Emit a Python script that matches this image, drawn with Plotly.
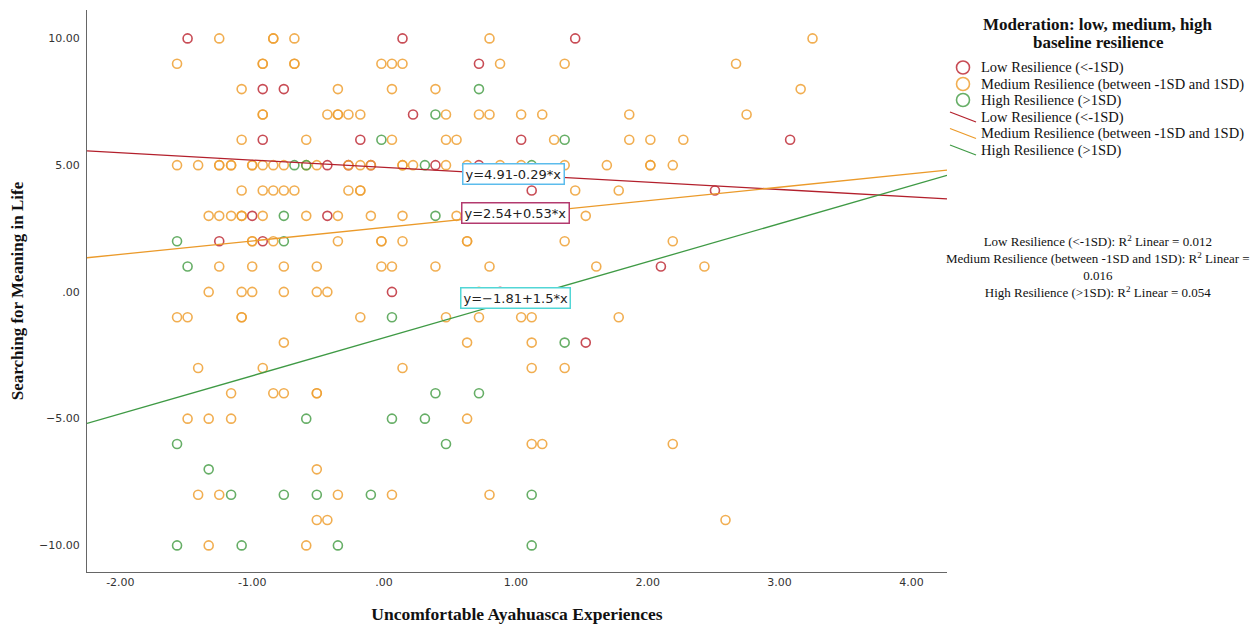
import plotly.graph_objects as go

# ---------------- data ----------------
low_x = [-1.49, 0.14, 1.45,
         0.72,
         -0.92, -0.76,
         0.22,
         -0.92, -0.18, 1.04, 3.08,
         -0.43, -0.27, -0.10, 0.39, 0.72,
         1.12, 2.51,
         -1.00, -0.43,
         -1.25, -0.92,
         2.10,
         0.06, 0.88,
         1.53]
low_y = [10, 10, 10,
         9,
         8, 8,
         7,
         6, 6, 6, 6,
         5, 5, 5, 5, 5,
         4, 4,
         3, 3,
         2, 2,
         1,
         0, 0,
         -2]

med_x = [-1.25, -0.84, -0.84, -0.68, 0.80, 3.25,
         -1.57, -0.92, -0.92, -0.68, -0.68, -0.02, 0.06, 0.14, 0.88, 1.37, 2.67,
         -1.08, -0.35, 0.06, 0.39, 3.16,
         -0.92, -0.92, -0.43, -0.35, -0.35, -0.27, -0.18, 0.47, 0.72, 0.80, 1.04, 1.20, 1.86, 2.75,
         -1.08, -0.59, 0.06, 0.47, 0.55, 1.29, 1.86, 2.02, 2.27,
         -1.57, -1.41, -1.25, -1.25, -1.16, -1.16, -1.00, -1.00, -0.92, -0.84, -0.76, -0.59, -0.51, -0.27,
         -0.18, -0.10, 0.14, 0.14, 0.22, 0.47, 0.63, 0.88, 1.04, 1.37, 1.69, 2.02, 2.02, 2.19,
         -1.08, -0.92, -0.84, -0.76, -0.68, -0.27, -0.18, -0.18, 1.45, 1.78,
         -1.33, -1.25, -1.16, -1.08, -1.08, -0.92, -0.59, -0.35, -0.10, 0.14, 0.55, 1.53,
         -1.00, -1.00, -0.84, -0.35, -0.02, -0.02, 0.14, 0.63, 0.63, 1.37, 2.19,
         -1.25, -1.00, -0.76, -0.51, -0.02, 0.06, 0.39, 0.80, 1.61, 2.43,
         -1.33, -1.08, -1.00, -0.76, -0.51, -0.43, 0.72,
         -1.57, -1.49, -1.08, -1.08, -0.18, 0.47, 0.72, 1.04, 1.12, 1.78,
         -0.76, 0.63, 1.12,
         -1.41, -0.92, 0.14, 1.12, 1.37,
         -1.16, -0.84, -0.76, -0.51, -0.51,
         -1.49, -1.33, -1.16, 0.63,
         1.12, 1.20, 2.19,
         -0.51,
         -1.41, -1.25, -0.35, 0.06, 0.80,
         -0.51, -0.43, 2.59,
         -1.33, -0.59]
med_y = [10, 10, 10, 10, 10, 10,
         9, 9, 9, 9, 9, 9, 9, 9, 9, 9, 9,
         8, 8, 8, 8, 8,
         7, 7, 7, 7, 7, 7, 7, 7, 7, 7, 7, 7, 7, 7,
         6, 6, 6, 6, 6, 6, 6, 6, 6,
         5, 5, 5, 5, 5, 5, 5, 5, 5, 5, 5, 5, 5, 5,
         5, 5, 5, 5, 5, 5, 5, 5, 5, 5, 5, 5, 5, 5,
         4, 4, 4, 4, 4, 4, 4, 4, 4, 4,
         3, 3, 3, 3, 3, 3, 3, 3, 3, 3, 3, 3,
         2, 2, 2, 2, 2, 2, 2, 2, 2, 2, 2,
         1, 1, 1, 1, 1, 1, 1, 1, 1, 1,
         0, 0, 0, 0, 0, 0, 0,
         -1, -1, -1, -1, -1, -1, -1, -1, -1, -1,
         -2, -2, -2,
         -3, -3, -3, -3, -3,
         -4, -4, -4, -4, -4,
         -5, -5, -5, -5,
         -6, -6, -6,
         -7,
         -8, -8, -8, -8, -8,
         -9, -9, -9,
         -10, -10]

high_x = [0.72, 0.39, -0.02, 1.37, -0.68, -0.59, 0.31, 1.12, -0.76, 0.39,
          -1.57, -0.76, -1.49, 0.06, 1.37, 0.39, 0.72, -0.59, 0.06, 0.31,
          -1.57, 0.47, -1.33, -1.16, -0.76, -0.51, -0.10, 1.12,
          -1.57, -1.08, -0.35, 1.12]
high_y = [8, 7, 6, 6, 5, 5, 5, 5, 3, 3,
          2, 2, 1, -1, -2, -4, -4, -5, -5, -5,
          -6, -6, -7, -8, -8, -8, -8, -8,
          -10, -10, -10, -10]

group_names = ["Low Resilience (<-1SD)",
               "Medium Resilience (between -1SD and 1SD)",
               "High Resilience (>1SD)"]
intercepts = [4.91, 2.54, -1.81]
slopes = [-0.29, 0.53, 1.5]
equation_labels = ["y=4.91-0.29*x", "y=2.54+0.53*x", "y=\u22121.81+1.5*x"]
r2_values = ["0.012", "0.016", "0.054"]
legend_title_lines = ["Moderation: low, medium, high", "baseline resilience"]

x_ticks = [-2, -1, 0, 1, 2, 3, 4]
x_ticktext = ["-2.00", "-1.00", ".00", "1.00", "2.00", "3.00", "4.00"]
y_ticks = [-10, -5, 0, 5, 10]
y_ticktext = ["\u221210.00", "\u22125.00", ".00", "5.00", "10.00"]

# ---------------- styling ----------------
W, H = 1260, 627
L, R, T, B = 87, 313, 10, 55
PW, PH = W - L - R, H - T - B
X_RANGE = [-2.253, 4.27]
Y_RANGE = [-11.05, 11.12]
marker_colors = ["rgba(190,45,55,0.85)", "rgba(238,160,50,0.85)", "rgba(75,160,75,0.85)"]
line_colors = ["#b3202c", "#eb9a2a", "#3f9a45"]
box_colors = ["#5cbcec", "#b33a6e", "#52d6d6"]
SERIF = "Liberation Serif, Times New Roman, serif"
SANS = "DejaVu Sans, Verdana, sans-serif"


def px_x(p):
    return (p - L) / PW


def px_y(p):
    return (H - B - p) / PH


fig = go.Figure()
for name, xs, ys, col in zip(group_names, [low_x, med_x, high_x], [low_y, med_y, high_y], marker_colors):
    fig.add_trace(go.Scatter(
        x=xs, y=ys, mode="markers", name=name, showlegend=False,
        marker=dict(symbol="circle-open", size=9, color=col, line=dict(width=1.6)),
        hoverinfo="x+y+name"))

for name, b0, b1, col in zip(group_names, intercepts, slopes, line_colors):
    xs = list(X_RANGE)
    ys = [b0 + b1 * v for v in xs]
    fig.add_trace(go.Scatter(x=xs, y=ys, mode="lines", name=name, showlegend=False,
                             line=dict(color=col, width=1.3)))

annotations = []
shapes = []
eq_pos = [(0.98, 4.65), (1.0, 3.12), (1.0, -0.24)]
for (ax, ay), txt, bc in zip(eq_pos, equation_labels, box_colors):
    annotations.append(dict(x=ax, y=ay, xref="x", yref="y", text=txt, showarrow=False,
                            font=dict(family=SANS, size=13, color="#222"),
                            bgcolor="white", bordercolor=bc, borderwidth=1.5, borderpad=2))

r2_text = (f"{group_names[0]}: R<sup>2</sup> Linear = {r2_values[0]}<br>"
           f"{group_names[1]}: R<sup>2</sup> Linear =<br>{r2_values[1]}<br>"
           f"{group_names[2]}: R<sup>2</sup> Linear = {r2_values[2]}")
annotations.append(dict(x=px_x(1098), y=px_y(266), xref="paper", yref="paper", text=r2_text,
                        showarrow=False, align="center", xanchor="center", yanchor="middle",
                        font=dict(family=SERIF, size=13, color="#111")))
for line_txt, ty in zip(legend_title_lines, [25, 43]):
    annotations.append(dict(x=px_x(1098), y=px_y(ty), xref="paper", yref="paper",
                            text=f"<b>{line_txt}</b>",
                            showarrow=False, align="center", xanchor="center", yanchor="middle",
                            font=dict(family=SERIF, size=17, color="#111")))

# hand-drawn legend (circle keys, then diagonal line keys)
row_y = [67.5, 84, 100, 117, 133.5, 150]
for i in range(6):
    g = i % 3
    cy = row_y[i]
    if i < 3:
        shapes.append(dict(type="circle", xref="paper", yref="paper",
                           xsizemode="pixel", ysizemode="pixel",
                           xanchor=px_x(963), yanchor=px_y(cy),
                           x0=-6.5, x1=6.5, y0=-6.5, y1=6.5,
                           line=dict(color=marker_colors[g], width=1.6)))
    else:
        shapes.append(dict(type="line", xref="paper", yref="paper",
                           x0=px_x(950), x1=px_x(976), y0=px_y(cy - 5), y1=px_y(cy + 5),
                           line=dict(color=line_colors[g], width=1.3)))
    annotations.append(dict(x=px_x(979), y=px_y(cy), xref="paper", yref="paper",
                            text=group_names[g].replace("<", "&lt;").replace(">", "&gt;"),
                            showarrow=False, xanchor="left", yanchor="middle",
                            font=dict(family=SERIF, size=14.5, color="#111")))

fig.update_layout(
    width=W, height=H,
    margin=dict(l=L, r=R, t=T, b=B, autoexpand=False),
    paper_bgcolor="white", plot_bgcolor="white",
    showlegend=False,
    annotations=annotations,
    shapes=shapes,
    xaxis=dict(range=X_RANGE, tickvals=x_ticks, ticktext=x_ticktext, automargin=False,
               showline=True, linecolor="#666", linewidth=1, showgrid=False, zeroline=False,
               ticks="", tickfont=dict(family=SANS, size=11, color="#333"),
               title=dict(text="<b>Uncomfortable Ayahuasca Experiences</b>",
                          font=dict(family=SERIF, size=17.5, color="#111"), standoff=19)),
    yaxis=dict(range=Y_RANGE, tickvals=y_ticks, ticktext=y_ticktext, automargin=False,
               showline=True, linecolor="#666", linewidth=1, showgrid=False, zeroline=False,
               ticks="", ticklabelstandoff=4, tickfont=dict(family=SANS, size=11, color="#333"),
               title=dict(text="<b>Searching for Meaning in Life</b>",
                          font=dict(family=SERIF, size=17, color="#111"), standoff=11)),
)

fig.write_html("out.html", config={"displayModeBar": False},
               post_script="document.body.style.margin='0';")
